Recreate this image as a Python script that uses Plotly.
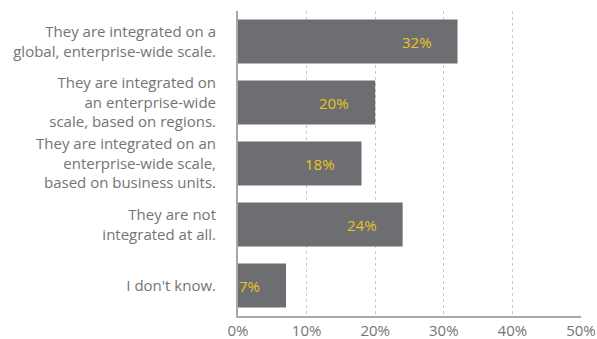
import plotly.graph_objects as go

# Survey responses: how are the functions integrated?
categories = [
    "They are integrated on a<br>global, enterprise-wide scale.",
    "They are integrated on<br>an enterprise-wide<br>scale, based on regions.",
    "They are integrated on an<br>enterprise-wide scale,<br>based on business units.",
    "They are not<br>integrated at all.",
    "I don't know.",
]
values = [32, 20, 18, 24, 7]
tick_values = [0, 10, 20, 30, 40, 50]
tick_labels = ["0%", "10%", "20%", "30%", "40%", "50%"]

BAR = "#6d6e71"
TEXT = "#747474"
GOLD = "#e8c41c"
FONT = "Open Sans"

fig = go.Figure(
    go.Bar(
        x=values,
        y=categories,
        orientation="h",
        marker=dict(color=BAR, line=dict(width=0)),
        width=0.72,
        hoverinfo="skip",
    )
)

# value labels inside each bar, near its end
for cat, v in zip(categories, values):
    fig.add_annotation(
        x=v, y=cat, xref="x", yref="y",
        text=f"{v}%", showarrow=False,
        xanchor="right", xshift=-24,
        font=dict(family=FONT, size=15, color=GOLD),
    )

fig.update_layout(
    width=597,
    height=339,
    margin=dict(l=238, r=16, t=11, b=23),
    paper_bgcolor="white",
    plot_bgcolor="white",
    showlegend=False,
    font=dict(family=FONT, size=15, color=TEXT),
    xaxis=dict(
        range=[0, 50],
        tickvals=tick_values,
        ticktext=tick_labels,
        showgrid=True,
        gridcolor="#c8c8c8",
        griddash="dot",
        gridwidth=1,
        zeroline=False,
        showline=True,
        linecolor="#a8a8a8",
        linewidth=2,
        ticks="",
        automargin=False,
        tickfont=dict(family=FONT, size=15, color=TEXT),
        fixedrange=True,
    ),
    yaxis=dict(
        autorange="reversed",
        showgrid=False,
        zeroline=False,
        showline=True,
        linecolor="#a8a8a8",
        linewidth=2,
        ticks="",
        automargin=False,
        ticklabelstandoff=17,
        tickfont=dict(family=FONT, size=15, color=TEXT),
        fixedrange=True,
    ),
)

fig.write_html("out.html")
